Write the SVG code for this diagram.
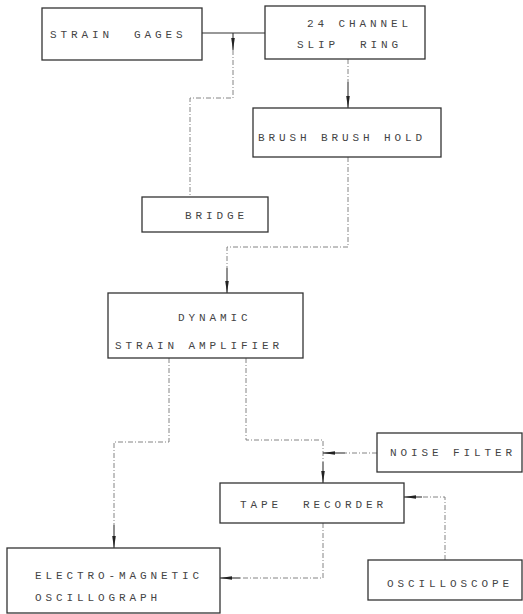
<svg xmlns="http://www.w3.org/2000/svg" width="523" height="614" viewBox="0 0 523 614">
<defs>
<style>
.box{fill:#fff;stroke:#333;stroke-width:1.3}
.t{font-family:"Liberation Mono",monospace;font-size:11px;fill:#444;letter-spacing:3.9px;white-space:pre}
.s{fill:none;stroke:#333;stroke-width:1.1}
.d{fill:none;stroke:#777;stroke-width:0.9;stroke-dasharray:5 2 1 2}
</style>
<marker id="ah" viewBox="0 0 12 6" refX="12" refY="3" markerWidth="12" markerHeight="6" markerUnits="userSpaceOnUse" orient="auto">
<path d="M0,1.2 L12,3 L0,4.8 Z" fill="#222"/>
</marker>
</defs>
<rect width="523" height="614" fill="#fff"/>
<g id="connectors">
<path class="s" d="M202,33 H265"/>
<path class="s" d="M233,33 V50" marker-end="url(#ah)"/>
<path class="d" d="M233,50 V98 H190 V198"/>
<path class="d" d="M348,59 V82"/>
<path class="s" d="M348,82 V108" marker-end="url(#ah)"/>
<path class="d" d="M348,157 V247 H227 V268"/>
<path class="s" d="M227,268 V293" marker-end="url(#ah)"/>
<path class="d" d="M169,358 V442 H114 V525"/>
<path class="s" d="M114,525 V548" marker-end="url(#ah)"/>
<path class="d" d="M246,358 V440 H323 V462"/>
<path class="s" d="M323,462 V483" marker-end="url(#ah)"/>
<path class="d" d="M377,453 H345"/>
<path class="s" d="M345,453 H323" marker-end="url(#ah)"/>
<path class="d" d="M445,560 V497 H422"/>
<path class="s" d="M422,497 H404" marker-end="url(#ah)"/>
<path class="d" d="M323,523 V578 H240"/>
<path class="s" d="M240,578 H220" marker-end="url(#ah)"/>
</g>
<g id="strain-gages"><rect class="box" x="42" y="8" width="160" height="52"/><text class="t" x="50" y="38">STRAIN  GAGES</text></g>
<g id="slip-ring"><rect class="box" x="265" y="6" width="160" height="53"/><text class="t" x="307" y="27">24 CHANNEL</text><text class="t" x="297" y="48">SLIP  RING</text></g>
<g id="brush"><rect class="box" x="253" y="108" width="188" height="49"/><text class="t" x="258" y="141">BRUSH BRUSH HOLD</text></g>
<g id="bridge"><rect class="box" x="142" y="197" width="126" height="35"/><text class="t" x="185" y="219">BRIDGE</text></g>
<g id="dynamic-amp"><rect class="box" x="108" y="293" width="195" height="65"/><text class="t" x="178" y="321">DYNAMIC</text><text class="t" x="115" y="349">STRAIN AMPLIFIER</text></g>
<g id="noise-filter"><rect class="box" x="377" y="433" width="145" height="39"/><text class="t" x="390" y="456">NOISE FILTER</text></g>
<g id="tape-recorder"><rect class="box" x="220" y="483" width="184" height="40"/><text class="t" x="240" y="508">TAPE  RECORDER</text></g>
<g id="oscilloscope"><rect class="box" x="368" y="560" width="154" height="40"/><text class="t" x="387" y="587">OSCILLOSCOPE</text></g>
<g id="em-oscillograph"><rect class="box" x="7" y="548" width="213" height="65"/><text class="t" x="35" y="579">ELECTRO-MAGNETIC</text><text class="t" x="35" y="601">OSCILLOGRAPH</text></g>
</svg>
